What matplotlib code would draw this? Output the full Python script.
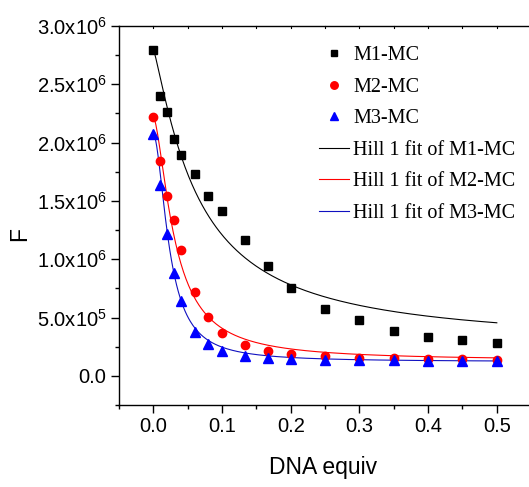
import numpy as np
import matplotlib
matplotlib.use("Agg")
import matplotlib.pyplot as plt
from matplotlib.ticker import MultipleLocator, FixedLocator

plt.rcParams['font.family'] = ['Liberation Sans', 'DejaVu Sans']
plt.rcParams['mathtext.fontset'] = 'custom'
plt.rcParams['mathtext.rm'] = 'Liberation Sans'

# ---- data ----
dna_equiv = [0.0, 0.01, 0.02, 0.03, 0.04, 0.06, 0.08, 0.1, 0.133, 0.167,
             0.2, 0.25, 0.3, 0.35, 0.4, 0.45, 0.5]
m1_mc = [2.79e6, 2.40e6, 2.26e6, 2.03e6, 1.89e6, 1.73e6, 1.545e6, 1.41e6, 1.165e6,
         0.94e6, 0.757e6, 0.57e6, 0.48e6, 0.386e6, 0.334e6, 0.31e6, 0.28e6]
m2_mc = [2.22e6, 1.84e6, 1.545e6, 1.334e6, 1.077e6, 0.722e6, 0.503e6, 0.366e6, 0.263e6,
         0.214e6, 0.191e6, 0.169e6, 0.157e6, 0.150e6, 0.145e6, 0.141e6, 0.140e6]
m3_mc = [2.07e6, 1.64e6, 1.22e6, 0.885e6, 0.643e6, 0.38e6, 0.274e6, 0.214e6, 0.174e6,
         0.157e6, 0.146e6, 0.140e6, 0.137e6, 0.133e6, 0.130e6, 0.128e6, 0.125e6]

# Hill 1 fit parameters: (START, END, k, n)
hill_m1 = (2.80e6, 0.25e6, 0.0656, 1.2)
hill_m2 = (2.22e6, 0.13e6, 0.031, 1.6)
hill_m3 = (2.07e6, 0.121e6, 0.0235, 1.85)

y_tick_values = [0.0, 0.5e6, 1.0e6, 1.5e6, 2.0e6, 2.5e6, 3.0e6]
y_tick_labels = ['0.0', r'$\mathregular{5.0x10^{5}}$', r'$\mathregular{1.0x10^{6}}$',
                 r'$\mathregular{1.5x10^{6}}$', r'$\mathregular{2.0x10^{6}}$',
                 r'$\mathregular{2.5x10^{6}}$', r'$\mathregular{3.0x10^{6}}$']
x_tick_values = [0.0, 0.1, 0.2, 0.3, 0.4, 0.5]
x_tick_labels = ['0.0', '0.1', '0.2', '0.3', '0.4', '0.5']


def hill(x, start, end, k, n):
    xn = np.power(x, n)
    return start + (end - start) * xn / (k ** n + xn)


fig = plt.figure(figsize=(5.29, 4.87), dpi=100)
ax = fig.add_axes([119 / 529, 1 - 405 / 487, (528 - 119) / 529, (405 - 26) / 487])

xf = np.linspace(0, 0.5, 400)

ax.plot(dna_equiv, m1_mc, 's', color='black', ms=5.2, label='M1-MC', zorder=3)
ax.plot(dna_equiv, m2_mc, 'o', color='red', ms=6, label='M2-MC', zorder=3)
ax.plot(dna_equiv, m3_mc, '^', color='blue', ms=6.5, label='M3-MC', zorder=3)
ax.plot(xf, hill(xf, *hill_m1), '-', color='black', lw=0.8, label='Hill 1 fit of M1-MC')
ax.plot(xf, hill(xf, *hill_m2), '-', color='red', lw=0.8, label='Hill 1 fit of M2-MC')
ax.plot(xf, hill(xf, *hill_m3), '-', color='#1010c0', lw=0.8, label='Hill 1 fit of M3-MC')

ax.set_xlim(-0.05, 0.5454)
ax.set_ylim(-0.25e6, 3.0e6)

ax.xaxis.set_major_locator(FixedLocator(x_tick_values))
ax.set_xticklabels(x_tick_labels)
ax.xaxis.set_minor_locator(MultipleLocator(0.05))
ax.yaxis.set_major_locator(FixedLocator(y_tick_values))
ax.set_yticklabels(y_tick_labels)
ax.yaxis.set_minor_locator(MultipleLocator(0.25e6))

ax.spines['right'].set_visible(False)
for s in ['left', 'bottom', 'top']:
    ax.spines[s].set_linewidth(1.0)

ax.tick_params(axis='both', which='major', direction='out', length=6, width=1,
               labelsize=14.5, pad=3)
ax.tick_params(axis='both', which='minor', direction='out', length=3, width=1)
ax.tick_params(axis='x', which='both', labeltop=False)

# faint short ticks on the top axis
for xv in np.arange(0.0, 0.55, 0.05):
    ax.plot([xv, xv], [1.0, 0.994], color='black', lw=0.8,
            transform=ax.get_xaxis_transform(), clip_on=False)

ax.set_xlabel('DNA equiv', fontsize=16.5, labelpad=14)
fig.text(20 / 529, 1 - 234 / 487, 'F', rotation=90, ha='center', va='center',
         fontsize=16.5)

leg = ax.legend(loc='upper left', bbox_to_anchor=((319 - 119) / 409, 1 - (46 - 26) / 379),
                frameon=False, prop={'family': 'Liberation Serif', 'size': 14.5},
                handlelength=1.5, handletextpad=0.2, labelspacing=0.62,
                borderaxespad=0, borderpad=0, markerscale=0.9)

fig.savefig('out.png', dpi=100)
